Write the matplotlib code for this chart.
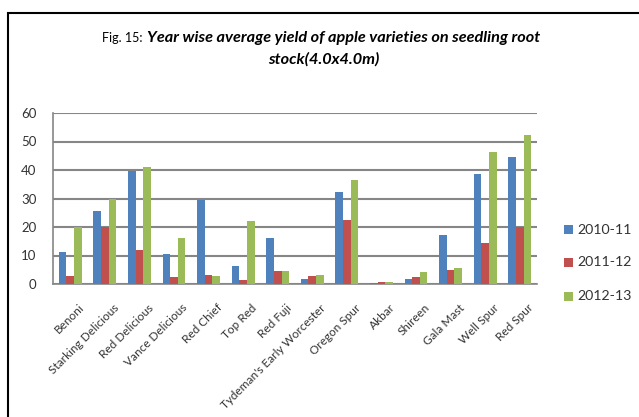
import matplotlib
matplotlib.use("Agg")
import matplotlib.pyplot as plt
import matplotlib.transforms as mtrans
import numpy as np
from matplotlib.patches import Rectangle

plt.rcParams['font.family'] = ['Lato', 'DejaVu Sans']

varieties = ["Benoni", "Starking Delicious", "Red Delicious", "Vance Delicious",
             "Red Chief", "Top Red", "Red Fuji", "Tydeman's Early Worcester",
             "Oregon Spur", "Akbar", "Shireen", "Gala Mast", "Well Spur", "Red Spur"]
years = ["2010-11", "2011-12", "2012-13"]
y2010 = [11.3, 25.6, 39.6, 10.7, 29.5, 6.2, 16.1, 1.7, 32.3, 0.2, 1.7, 17.1, 38.7, 44.5]
y2011 = [2.8, 20.0, 11.8, 2.6, 3.3, 1.4, 4.4, 2.8, 22.5, 0.7, 2.6, 4.9, 14.3, 20.0]
y2012 = [20.0, 29.9, 40.9, 16.1, 2.9, 22.0, 4.4, 3.1, 36.6, 0.7, 4.3, 5.6, 46.4, 52.2]
yticks = [0, 10, 20, 30, 40, 50, 60]

colors = ["#4F81BD", "#C0504D", "#9BBB59"]
text_col = "#333333"

W, H = 639, 417
fig = plt.figure(figsize=(W / 100, H / 100), dpi=100)

# outer frame
fig.patches.append(Rectangle((8 / W, -0.1), 1.2, 1 - 13 / H + 0.1,
                             transform=fig.transFigure, fill=False,
                             edgecolor="black", linewidth=1.5))

ax = fig.add_axes([53 / W, 1 - 284 / H, (537 - 53) / W, (284 - 113) / H])
x = np.arange(len(varieties))
bw = 0.22
for i, vals in enumerate([y2010, y2011, y2012]):
    ax.bar(x + (i - 1) * bw, vals, width=bw, color=colors[i], label=years[i], zorder=3)

ax.set_xlim(-0.5, len(varieties) - 0.5)
ax.set_ylim(0, 60)
ax.set_yticks(yticks)
ax.set_yticklabels([str(t) for t in yticks], fontsize=9.5, color=text_col)
ax.yaxis.grid(True, color="#868686", linewidth=1.5, zorder=0)
ax.set_axisbelow(True)
for s in ["top", "right"]:
    ax.spines[s].set_visible(False)
for s in ["left", "bottom"]:
    ax.spines[s].set_color("#868686")
    ax.spines[s].set_linewidth(1.2)
ax.tick_params(axis="y", length=0, pad=12)
ax.tick_params(axis="x", length=0, pad=13)
ax.set_xticks(x)
ax.set_xticklabels(varieties, rotation=45, ha="right", va="top",
                   rotation_mode="anchor", fontsize=8.5, color=text_col)
shift = mtrans.ScaledTranslation(8 / 100, 0, fig.dpi_scale_trans)
for lbl in ax.get_xticklabels():
    lbl.set_transform(lbl.get_transform() + shift)

# legend
sq = 9
rows_y = [230, 262, 296]
for lab, col, yy in zip(years, colors, rows_y):
    fig.patches.append(Rectangle((564 / W, 1 - (yy + sq / 2) / H), sq / W, sq / H,
                                 transform=fig.transFigure, facecolor=col,
                                 edgecolor="none"))
    fig.text(577 / W, 1 - yy / H, lab, ha="left", va="center",
             fontsize=10.2, color=text_col)

# title
fig.text(143 / W, 1 - 38 / H, "Fig. 15:", ha="right", va="center", fontsize=9)
fig.text(147 / W, 1 - 38 / H, "Year wise average yield of apple varieties on seedling root",
         ha="left", va="center", fontsize=11.7, style="italic", weight="bold")
fig.text(324 / W, 1 - 59 / H, "stock(4.0x4.0m)", ha="center", va="center",
         fontsize=11.7, style="italic", weight="bold")

fig.savefig("out.png", dpi=100)
